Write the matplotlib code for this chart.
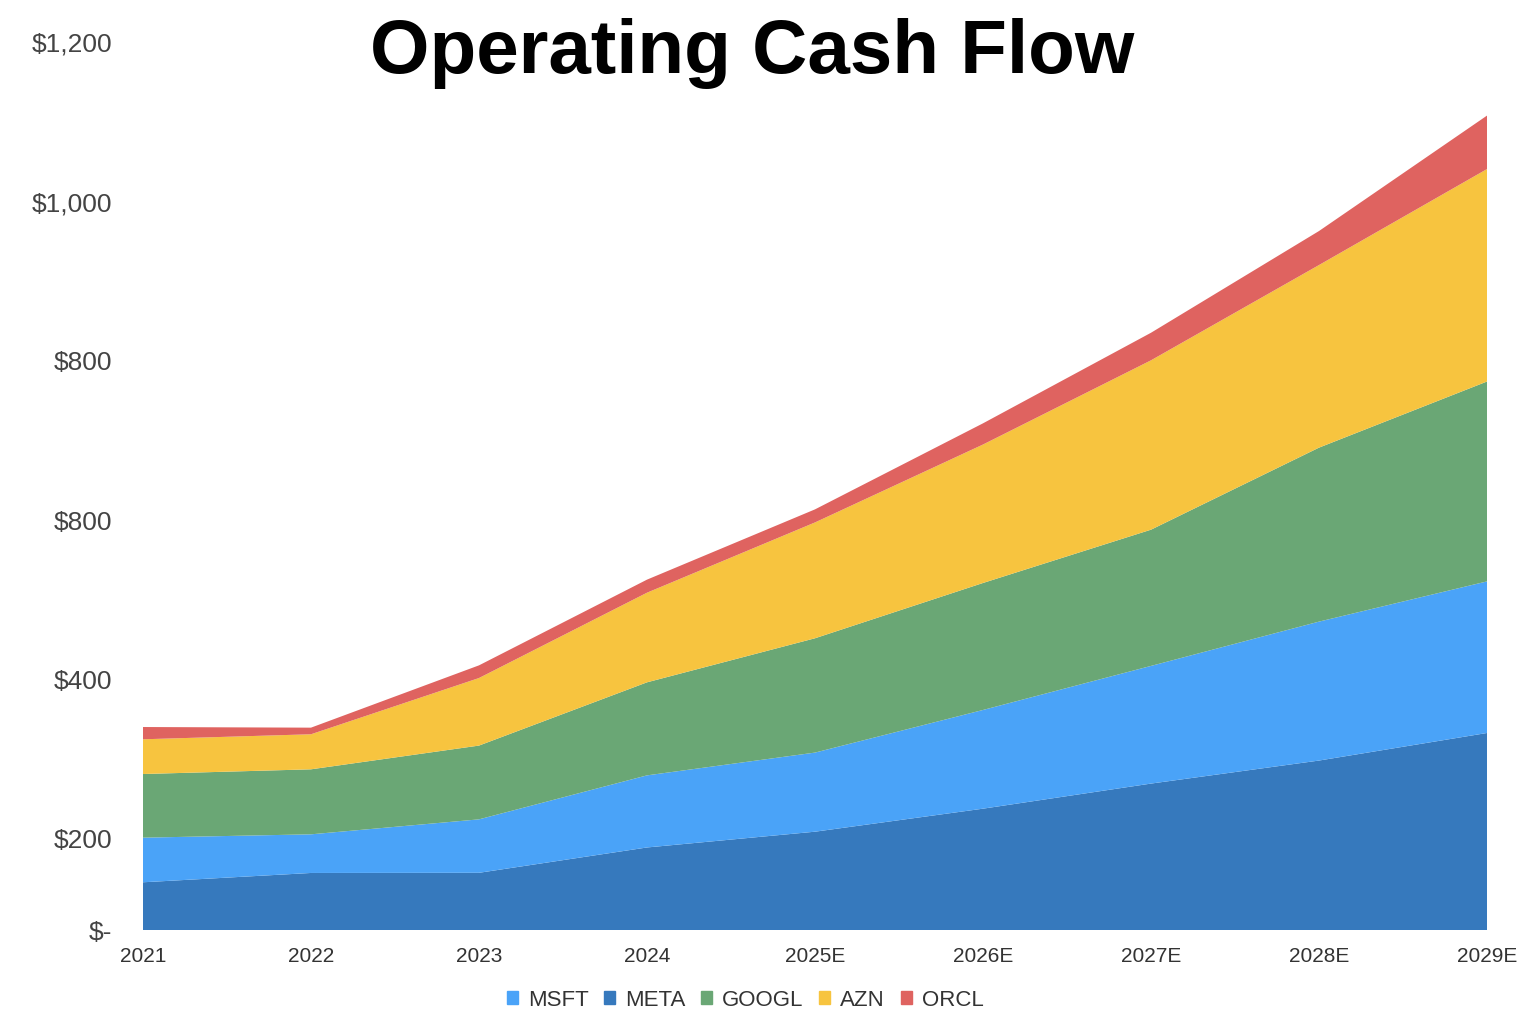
import matplotlib
matplotlib.use("Agg")
import matplotlib.pyplot as plt
from matplotlib.patches import Patch

plt.rcParams['font.family'] = ['Liberation Sans', 'DejaVu Sans']

# data (stack order bottom -> top)
years = ["2021", "2022", "2023", "2024", "2025E", "2026E", "2027E", "2028E", "2029E"]
meta  = [145.6, 157.3, 157.5, 189.3, 209.1, 238.0, 269.5, 298.4, 333.0]
msft  = [56.0, 48.5, 67.1, 90.5, 99.3, 123.9, 147.7, 174.4, 190.3]
googl = [79.9, 81.6, 92.6, 116.8, 143.5, 159.4, 171.0, 218.4, 250.9]
azn   = [43.6, 44.0, 84.8, 112.5, 145.4, 173.8, 212.6, 229.2, 266.7]
orcl  = [15.4, 8.3, 15.9, 16.4, 16.4, 26.6, 34.6, 42.7, 67.1]

# y ticks as printed on the original (including its duplicated label)
ytick_vals   = [85.7, 200, 400, 600, 800, 1000, 1200]
ytick_labels = ["$-", "$200", "$400", "$800", "$800", "$1,000", "$1,200"]

c_meta, c_msft, c_googl, c_azn, c_orcl = "#3679BD", "#4AA3F8", "#6AA775", "#F7C43F", "#DF6360"

fig = plt.figure(figsize=(15.36, 10.24), dpi=100)
ax = fig.add_axes([143/1536, 1 - 930/1024, (1487 - 143)/1536, (930 - 42.3)/1024])

x = list(range(len(years)))
ax.stackplot(x, meta, msft, googl, azn, orcl,
             colors=[c_meta, c_msft, c_googl, c_azn, c_orcl], linewidth=0)

ax.set_xlim(0, len(years) - 1)
ax.set_ylim(ytick_vals[0], 1200)
ax.set_xticks(x)
ax.set_xticklabels(years, fontsize=15, color="#333333")
ax.set_yticks(ytick_vals)
ax.set_yticklabels(ytick_labels, fontsize=19, color="#444444")
ax.tick_params(axis="x", length=0, pad=12)
ax.tick_params(axis="y", length=0, pad=22)
for s in ax.spines.values():
    s.set_visible(False)

fig.text(752/1536, 1 - 73/1024, "Operating Cash Flow", ha="center", va="baseline",
         fontsize=55, fontweight="bold", color="black")

handles = [Patch(color=c_msft, label="MSFT"), Patch(color=c_meta, label="META"),
           Patch(color=c_googl, label="GOOGL"), Patch(color=c_azn, label="AZN"),
           Patch(color=c_orcl, label="ORCL")]
fig.legend(handles=handles, loc="center", bbox_to_anchor=(745/1536, 1 - 1000/1024),
           ncol=5, frameon=False, fontsize=16, handlelength=0.5, handleheight=0.5,
           handletextpad=0.45, columnspacing=0.7, labelcolor="#333333")

fig.savefig("out.png", dpi=100)
